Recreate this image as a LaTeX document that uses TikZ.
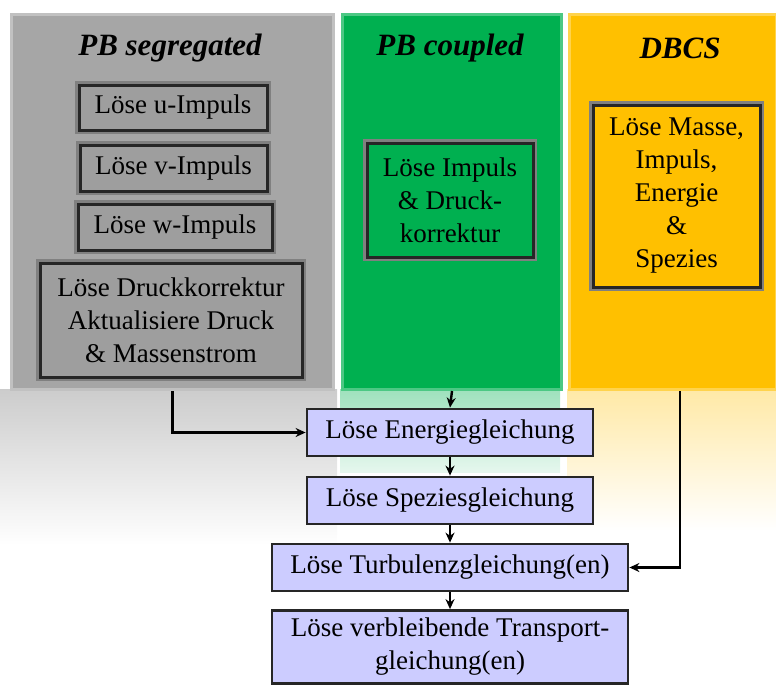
\documentclass[tikz,border=0pt]{standalone}
\usepackage{fontspec}
\setmainfont{Liberation Serif}
\usepackage{xcolor}
\usepackage{tikz}
\usetikzlibrary{arrows.meta,positioning,calc}
\definecolor{colgray}{HTML}{A6A6A6}
\definecolor{colgreen}{HTML}{00B050}
\definecolor{colyellow}{HTML}{FFC000}
\definecolor{lavender}{HTML}{CCCCFF}

\begin{document}
\begin{tikzpicture}[x=1pt,y=-1pt,
  every node/.style={font=\fontsize{27}{33}\selectfont,text=black,align=center,inner sep=0pt},
  col/.style={anchor=north west,minimum height=375pt,fill=#1,draw=#1!70!white,line width=3pt},
  hd/.style={font=\fontsize{31}{36}\selectfont\bfseries\itshape},
  ib/.style={fill=#1,draw=black!85,line width=3pt,preaction={draw=black!50,line width=8pt}},
  sb/.style={draw=black!85,line width=2.8pt,fill=lavender,minimum height=47pt},
  arr/.style={-{Stealth[length=10pt,width=9pt]},line width=2.4pt}
]
\useasboundingbox (0,0) rectangle (776,685);
\shade[top color=black!20,bottom color=white] (0,389) rectangle (337,545);
\shade[top color=colgreen!38,bottom color=colgreen!10] (340,389) rectangle (560,472);
\shade[top color=colyellow!35,bottom color=white] (567,389) rectangle (776,530);

\node[col=colgray,minimum width=322pt] (seg) at (10,13) {};
\node[col=colgreen,minimum width=219pt] (cpl) at (341,13) {};
\node[col=colyellow,minimum width=207pt] (dbcs) at (568,13) {};

\node[hd] (tseg) at (170,48) {PB segregated};
\node[hd] (tcpl) at (450,48) {PB coupled};
\node[hd] (tdbcs) at (680,48) {DBCS};

\node[ib=black!38,minimum width=188pt,minimum height=45pt] (uimp) at (173,107.5) {Löse u-Impuls};
\node[ib=black!38,minimum width=187pt,minimum height=46pt] (vimp) at (173.5,168) {Löse v-Impuls};
\node[ib=black!38,minimum width=194pt,minimum height=46pt] (wimp) at (175,227) {Löse w-Impuls};
\node[ib=black!38,minimum width=262pt,minimum height=114pt] (druck) at (171,320)
  {Löse Druckkorrektur\\Aktualisiere Druck\\\& Massenstrom};
\node[ib=colgreen,minimum width=166pt,minimum height=114pt] (impdr) at (450,200)
  {Löse Impuls\\\& Druck-\\korrektur};
\node[ib=colyellow,minimum width=167pt,minimum height=182pt] (alle) at (676.5,196)
  {Löse Masse,\\Impuls,\\Energie\\\&\\Spezies};

\node[sb,minimum width=286pt] (ener) at (450,432.5) {Löse Energiegleichung};
\node[sb,minimum width=286pt] (spez) at (450,500.5) {Löse Speziesgleichung};
\node[sb,minimum width=356pt] (turb) at (450,567.5) {Löse Turbulenzgleichung(en)};
\node[sb,minimum width=356pt,minimum height=73pt] (verb) at (450,647)
  {Löse verbleibende Transport-\\gleichung(en)};

\draw[arr] (seg.south) |- (ener.west);
\draw[arr] (cpl.south) -- (ener.north);
\foreach \a/\b in {ener/spez,spez/turb,turb/verb}
  \draw[arr] (\a) -- (\b);
\draw[arr] ([xshift=7pt]dbcs.south) |- (turb.east);
\end{tikzpicture}
\end{document}
